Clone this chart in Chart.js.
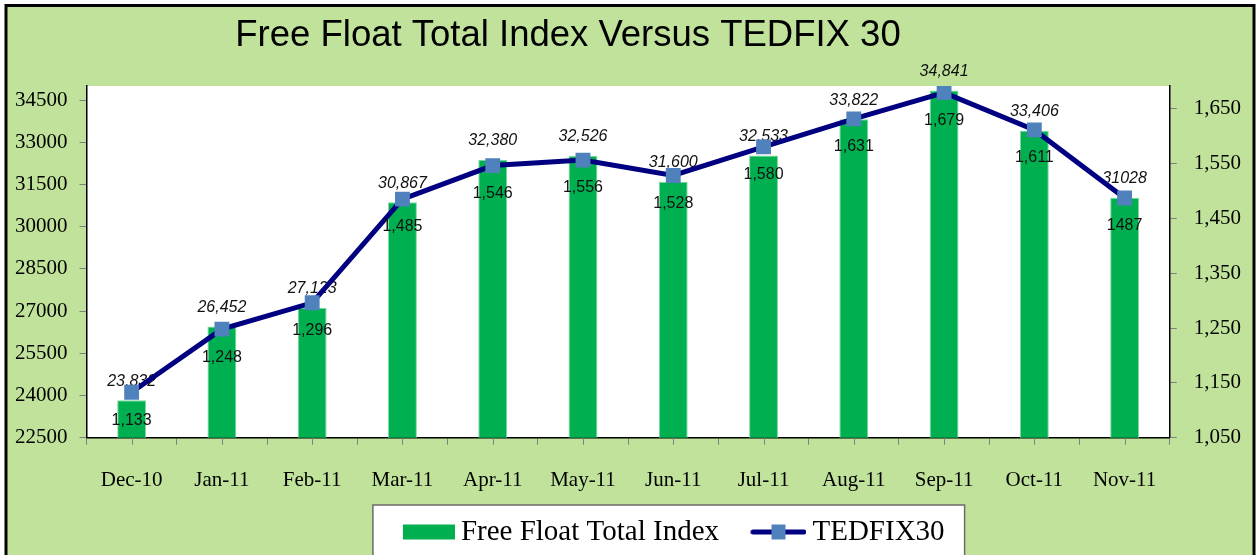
<!DOCTYPE html>
<html>
<head>
<meta charset="utf-8">
<script src="https://cdn.jsdelivr.net/npm/chart.js@4.4.1/dist/chart.umd.min.js"></script>
<style>
  body { margin: 0; overflow: hidden; background: #fff; }
  #wrap { width: 1256px; height: 590px; }
</style>
</head>
<body>
<div id="wrap"><canvas id="myChart" width="1256" height="590"></canvas></div>
<script>
// data
const months = ['Dec-10', 'Jan-11', 'Feb-11', 'Mar-11', 'Apr-11', 'May-11', 'Jun-11', 'Jul-11', 'Aug-11', 'Sep-11', 'Oct-11', 'Nov-11'];
const freeFloat = [23832, 26452, 27123, 30867, 32380, 32526, 31600, 32533, 33822, 34841, 33406, 31028];
const tedfix30 = [1133, 1248, 1296, 1485, 1546, 1556, 1528, 1580, 1631, 1679, 1611, 1487];
const leftTicks = [22500, 24000, 25500, 27000, 28500, 30000, 31500, 33000, 34500];
const rightTicks = [1050, 1150, 1250, 1350, 1450, 1550, 1650];

const BG = '#c0e29b';
const BAR = '#00b050';
const LINE = '#000080';
const MARK = '#4f81bd';

// last point is printed without thousands separator in the original
function fmt(v, i) {
    if (i === months.length - 1) return String(v);
    return v.toLocaleString('en-US');
}

function makeIcon(draw) {
    let c = document.createElement('canvas');
    c.width = 69; c.height = 18;
    draw(c.getContext('2d'));
    return c;
}
const barIcon = makeIcon(function(g) {
    g.fillStyle = BAR;
    g.fillRect(17, 1.5, 52, 15);
});
const lineIcon = makeIcon(function(g) {
    g.strokeStyle = LINE; g.lineWidth = 5; g.lineCap = 'round';
    g.beginPath(); g.moveTo(15.5, 9); g.lineTo(66.5, 9); g.stroke();
    g.fillStyle = MARK;
    g.fillRect(34, 1.5, 14, 15);
});

const framePlugin = {
    id: 'frame',
    afterLayout(chart) {
        // legend sits a bit right of centre and closer to the axis in the original
        const lg = chart.legend;
        lg.left += 39;
        lg.right += 39;
        lg.top = 532 - 27 - 14.5;
        lg.bottom = lg.top + lg.height;
    },
    beforeDraw(chart) {
        const ctx = chart.ctx;
        const a = chart.chartArea;
        ctx.save();
        ctx.fillStyle = '#fff';
        ctx.fillRect(0, 0, chart.width, chart.height);
        ctx.fillStyle = BG;
        ctx.fillRect(6, 5, 1248, chart.height);
        ctx.lineWidth = 3;
        ctx.strokeStyle = '#000';
        ctx.strokeRect(6, 5.5, 1248, chart.height + 10);
        ctx.fillStyle = '#fff';
        ctx.fillRect(a.left, a.top, a.right - a.left, a.bottom - a.top);
        // legend panel
        const hb = chart.legend.legendHitBoxes;
        if (hb && hb.length) {
            const l = hb[0].left - 21.5;
            const r = hb[hb.length - 1].left + hb[hb.length - 1].width + 20;
            const t = hb[0].top - 12.5;
            ctx.fillStyle = '#fff';
            ctx.fillRect(l, t, r - l, chart.height);
            ctx.lineWidth = 1.5;
            ctx.strokeStyle = '#6b6b6b';
            ctx.strokeRect(l, t, r - l, chart.height);
        }
        // title
        ctx.fillStyle = '#000';
        ctx.font = '36.5px "Liberation Sans", Arial, sans-serif';
        ctx.textAlign = 'center';
        ctx.textBaseline = 'alphabetic';
        ctx.fillText('Free Float Total Index Versus TEDFIX 30', 568, 46);
        ctx.restore();
    },
    afterDatasetDraw(chart, args) {
        const ctx = chart.ctx;
        const meta = args.meta;
        ctx.save();
        ctx.fillStyle = '#111';
        ctx.textAlign = 'center';
        ctx.textBaseline = 'middle';
        if (args.index === 0) {
            ctx.font = 'italic 16px "Liberation Sans", Arial, sans-serif';
            meta.data.forEach(function(el, i) {
                ctx.fillText(fmt(freeFloat[i], i), el.x, el.y - 19);
            });
        } else {
            ctx.font = '16px "Liberation Sans", Arial, sans-serif';
            meta.data.forEach(function(el, i) {
                ctx.fillText(fmt(tedfix30[i], i), el.x, el.y + 28);
            });
        }
        ctx.restore();
    },
    afterDraw(chart) {
        // small tick marks under each category centre
        const ctx = chart.ctx;
        const x = chart.scales.x;
        const b = chart.chartArea.bottom;
        ctx.save();
        ctx.strokeStyle = '#808080';
        ctx.lineWidth = 1;
        for (let i = 0; i < months.length; i++) {
            const px = Math.round(x.getPixelForTick(i)) + 0.5;
            ctx.beginPath(); ctx.moveTo(px, b); ctx.lineTo(px, b + 7); ctx.stroke();
        }
        ctx.restore();
    }
};

const axisFont = { family: '"Liberation Serif", "Times New Roman", serif', size: 21 };

let ctx = document.getElementById('myChart').getContext('2d');
let wykres = new Chart(ctx, {
    type: 'bar',
    data: {
        labels: months,
        datasets: [{
            type: 'bar',
            label: 'Free Float Total Index',
            data: freeFloat,
            yAxisID: 'y',
            backgroundColor: BAR,
            borderColor: '#7fd9a0',
            borderWidth: 1,
            barPercentage: 0.32,
            categoryPercentage: 1,
            order: 2
        }, {
            type: 'line',
            label: 'TEDFIX30',
            data: tedfix30,
            yAxisID: 'y1',
            borderColor: LINE,
            borderWidth: 5,
            tension: 0,
            pointStyle: 'rect',
            pointRadius: 10.5,
            pointBackgroundColor: MARK,
            pointBorderColor: MARK,
            pointBorderWidth: 0,
            order: 1
        }]
    },
    options: {
        responsive: false,
        animation: false,
        events: [],
        layout: { padding: { left: 3, right: -2, top: 86, bottom: 8 } },
        plugins: {
            title: { display: false },
            tooltip: { enabled: false },
            legend: {
                position: 'bottom',
                labels: {
                    usePointStyle: true,
                    pointStyleWidth: 52,
                    padding: 27,
                    color: '#000',
                    font: { family: '"Liberation Serif", "Times New Roman", serif', size: 29 },
                    generateLabels: function() {
                        return [
                            { text: 'Free Float Total Index', pointStyle: barIcon, fillStyle: BAR, strokeStyle: BAR, lineWidth: 0, datasetIndex: 0, hidden: false },
                            { text: 'TEDFIX30', pointStyle: lineIcon, fillStyle: LINE, strokeStyle: LINE, lineWidth: 0, datasetIndex: 1, hidden: false }
                        ];
                    }
                }
            }
        },
        scales: {
            x: {
                offset: true,
                grid: { offset: true, drawOnChartArea: false, tickLength: 7, color: '#808080' },
                border: { color: '#000', width: 1.5 },
                ticks: { color: '#000', font: axisFont, padding: 23, maxRotation: 0, autoSkip: false }
            },
            y: {
                position: 'left',
                min: 22500,
                max: 35000,
                afterBuildTicks: function(scale) { scale.ticks = leftTicks.map(v => ({ value: v })); },
                grid: { drawOnChartArea: false, tickLength: 7, color: '#808080' },
                border: { color: '#000', width: 1.5 },
                ticks: { color: '#000', font: axisFont, padding: 12, callback: v => String(v) }
            },
            y1: {
                position: 'right',
                min: 1050,
                max: 1691,
                afterBuildTicks: function(scale) { scale.ticks = rightTicks.map(v => ({ value: v })); },
                grid: { drawOnChartArea: false, tickLength: 7, color: '#808080' },
                border: { color: '#000', width: 1.5 },
                ticks: { color: '#000', font: axisFont, padding: 17, callback: v => v.toLocaleString('en-US') }
            }
        }
    },
    plugins: [framePlugin]
});
</script>
</body>
</html>
